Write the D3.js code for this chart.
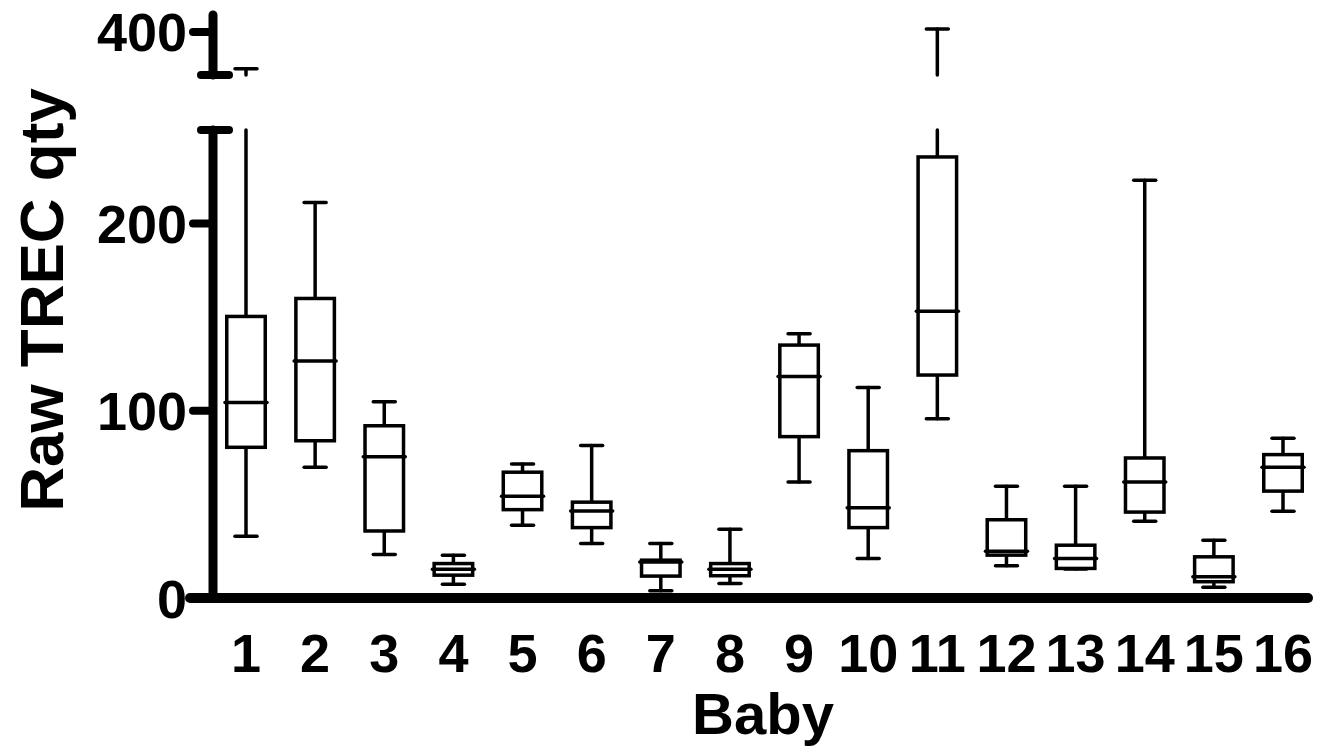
<!DOCTYPE html>
<html>
<head>
	<meta http-equiv="Content-Type" content="text/html;charset=utf-8"/>
	<title>Raw TREC qty by baby</title>
	<script src="https://d3js.org/d3.v7.min.js"></script>
	<style type="text/css">
		body { margin: 0; background: #fff; }
		text {
			font-family: "Liberation Sans", Arial, sans-serif;
			font-weight: bold;
			fill: #000;
		}
		.box { fill: #fff; stroke: #000; stroke-width: 3.5px; }
		.wh { stroke: #000; stroke-width: 3.5px; stroke-linecap: round; }
		.ax { stroke: #000; stroke-linecap: round; }
	</style>
</head>
<body>
<svg width="1317" height="754"></svg>

<script type="text/javascript">
// babies 1..16, five-number summaries
var babies = ["1","2","3","4","5","6","7","8","9","10","11","12","13","14","15","16"];
var mins    = [33, 69.8, 23.2, 7.4, 38.8, 29.1, 3.9, 7.8, 61.9, 21.1, 95.7, 17.2, 15.5, 41, 5.7, 46.4];
var q1s     = [80.5, 84, 35.8, 12.2, 47.2, 37.6, 11.7, 11.9, 86.2, 37.6, 119.1, 22.9, 15.8, 45.9, 8.7, 57.1];
var medians = [104.4, 126.6, 75.5, 15.3, 54.3, 46.5, 19.2, 15.3, 118.3, 48.2, 153.2, 25, 21.1, 61.9, 11.3, 69.9];
var q3s     = [150.4, 160, 92, 18.4, 67.2, 51.2, 20.2, 18.4, 135.1, 78.7, 235.6, 41.8, 28.2, 74.8, 22, 76.6];
var maxs    = [380.3, 211.3, 104.8, 22.9, 71.6, 81.4, 29.1, 36.7, 141.1, 112.4, 401.6, 59.7, 59.7, 223.2, 30.9, 85.3];

var lowTicks = [0, 100, 200];
var highTicks = [400];

var svg = d3.select("svg");

// broken y axis: two segments with same unit size
var yLow = d3.scaleLinear().domain([0, 250]).range([598, 130]);
var yHigh = d3.scaleLinear().domain([377, 409]).range([75, 15]);
var x = d3.scalePoint().domain(babies).range([246, 1283]);

var boxW = 42, capW = 22, axX = 213;

var data = babies.map(function(b, i) {
	return {name: b, min: mins[i], q1: q1s[i], med: medians[i], q3: q3s[i], max: maxs[i]};
});

// whisker pieces clipped to each axis segment
function pieces(a, b) {
	var out = [];
	var lo = yLow.domain(), hi = yHigh.domain();
	var a1 = Math.max(a, lo[0]), b1 = Math.min(b, lo[1]);
	if (b1 > a1) out.push([yLow(a1), yLow(b1)]);
	var a2 = Math.max(a, hi[0]), b2 = Math.min(b, hi[1]);
	if (b2 > a2) out.push([yHigh(a2), yHigh(b2)]);
	return out;
}
function yv(v) { return v >= yHigh.domain()[0] ? yHigh(v) : yLow(v); }

var g = svg.append("g");
data.forEach(function(d) {
	var cx = x(d.name);
	pieces(d.q3, d.max).concat(pieces(d.min, d.q1)).forEach(function(p) {
		g.append("line").attr("class", "wh")
			.attr("x1", cx).attr("x2", cx).attr("y1", p[0]).attr("y2", p[1]);
	});
	[d.min, d.max].forEach(function(v) {
		g.append("line").attr("class", "wh")
			.attr("x1", cx - capW / 2).attr("x2", cx + capW / 2)
			.attr("y1", yv(v)).attr("y2", yv(v));
	});
	g.append("rect").attr("class", "box")
		.attr("x", cx - boxW / 2 + 1.75).attr("width", boxW - 3.5)
		.attr("y", yLow(d.q3)).attr("height", yLow(d.q1) - yLow(d.q3));
	g.append("line").attr("class", "wh")
		.attr("x1", cx - boxW / 2).attr("x2", cx + boxW / 2)
		.attr("y1", yLow(d.med)).attr("y2", yLow(d.med));
});

// axes
var ax = svg.append("g");
ax.append("line").attr("class", "ax").style("stroke-width", 10)
	.attr("x1", 190).attr("x2", 1308).attr("y1", yLow(0)).attr("y2", yLow(0));
ax.append("line").attr("class", "ax").style("stroke-width", 9)
	.attr("x1", axX).attr("x2", axX).attr("y1", yLow(0)).attr("y2", yLow(250));
ax.append("line").attr("class", "ax").style("stroke-width", 9)
	.attr("x1", axX).attr("x2", axX).attr("y1", yHigh(377)).attr("y2", yHigh(409));
[yLow(250), yHigh(377)].forEach(function(yy) {
	ax.append("line").attr("class", "ax").style("stroke-width", 8)
		.attr("x1", 201).attr("x2", 229).attr("y1", yy).attr("y2", yy);
});

function yTick(yy, label) {
	ax.append("line").attr("class", "ax").style("stroke-width", 8)
		.attr("x1", 193).attr("x2", axX).attr("y1", yy).attr("y2", yy);
	ax.append("text").attr("x", 187).attr("y", yy + 19.5)
		.attr("text-anchor", "end").style("font-size", "54px").text(label);
}
lowTicks.forEach(function(t) { yTick(yLow(t), t); });
highTicks.forEach(function(t) { yTick(yHigh(t), t); });

svg.append("g").selectAll("text").data(babies).enter().append("text")
	.attr("x", function(b) { return x(b); }).attr("y", 672)
	.attr("text-anchor", "middle").style("font-size", "54px")
	.text(function(b) { return b; });

svg.append("text").attr("x", 763).attr("y", 734)
	.attr("text-anchor", "middle").style("font-size", "58px").text("Baby");

svg.append("text").attr("transform", "translate(63,300) rotate(-90)")
	.attr("text-anchor", "middle").style("font-size", "62px").text("Raw TREC qty");
</script>
</body>
</html>
